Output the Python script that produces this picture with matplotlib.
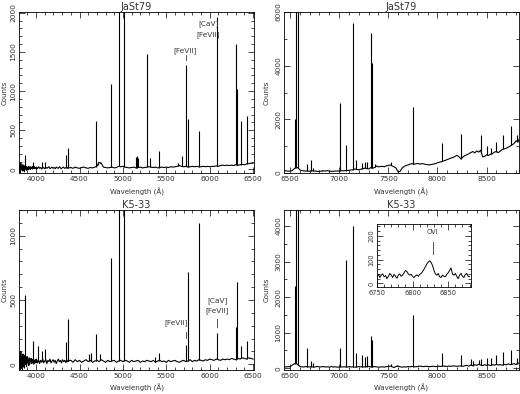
import numpy as np
import matplotlib.pyplot as plt
from matplotlib.ticker import MultipleLocator

plt.rcParams['font.family'] = ['DejaVu Sans']

# ---- continuum levels (counts), written as (start wavelength, step, values) ----
jast_blue_cont = [
    (3800, 6, [70, -30, 50, -40, 80, 0, 40, -20, 60, -10, 30, -30, 50, 10, 40, -10, 20,
               30, -5, 40, 10, 30, 0, 35, 15, 25, 5, 40, 20, 10, 35, 15, 25, 10]),
    (4004, 12, [30, 10, 35, 15, 25, 5, 30, 20, 10, 30, 15, 25, 35, 10, 20, 30, 15, 25,
                10, 30, 20, 15, 35, 20, 10, 25, 30, 15, 20, 30, 15, 25, 20]),
    (4400, 25, [25, 15, 30, 20, 15, 25, 30, 20, 15, 25, 20, 30,
                40, 90, 80, 30, 25, 20, 25, 30, 20, 25, 40, 35,
                40, 30, 25, 20, 25, 30, 20, 25, 30, 20, 25, 30,
                35, 30, 25, 30, 20, 25, 30, 25, 30, 25, 35, 30,
                35, 40, 50, 40, 35, 40, 30, 35, 40, 35, 40, 35,
                35, 40, 35, 40, 35, 40, 40, 45, 40, 50, 55, 50,
                55, 50, 55, 50, 60, 55, 60, 65, 60, 70, 75, 80, 80]),
]
jast_red_cont = [
    (6440, 20, [90, 80, 70, 70, 80, 150, 200, 200, 120, 90,
                80, 70, 75, 70, 80, 75, 70, 60, 65, 70,
                80, 75, 90, 70, 60, 65, 70, 75, 80, 85,
                80, 90, 95, 100, 110, 120, 150, 130, 120, 140,
                160, 180, 170, 150, 200, 180, 200, 260, 230, 240,
                250, 230, 270, 280, 300, 260, 230, 180, 40, 60,
                180, 240, 280, 300, 330, 350, 330, 340, 360, 330,
                350, 340, 320, 310, 300, 320, 330, 350, 380, 400,
                420, 450, 470, 500, 530, 560, 580, 620, 660, 600,
                520, 600, 650, 680, 720, 760, 800, 750, 820, 780,
                850, 600, 620, 680, 650, 700, 720, 780, 800, 760,
                820, 880, 900, 920, 960, 1000, 1050, 1100, 1200, 1150, 1350]),
]
k533_blue_cont = [
    (3800, 6, [90, -40, 70, -50, 100, -30, 60, -40, 80, -20, 50, -30, 70, 0, 40, -20, 60,
               10, 30, -10, 50, 0, 40, 20, 45, 5, 35, 15, 40, 0, 30, 20, 35, 10]),
    (4004, 12, [40, 10, 35, 5, 30, 15, 40, 10, 25, 35, 5, 30, 20, 40, 10, 25, 35, 15,
                30, 5, 25, 40, 20, 30, 10, 35, 20, 30, 15, 35, 20, 25, 30]),
    (4400, 25, [30, 15, 35, 20, 30, 15, 25, 35, 20, 30, 15, 25,
                30, 20, 35, 25, 15, 30, 20, 25, 30, 15, 25, 30,
                20, 30, 25, 15, 30, 20, 25, 30, 15, 25, 20, 30,
                25, 20, 30, 15, 25, 30, 20, 25, 15, 30, 20, 25,
                30, 20, 15, 25, 30, 20, 25, 35, 20, 30, 25, 35,
                30, 25, 35, 30, 40, 35, 30, 40, 35, 30, 40, 35,
                40, 35, 45, 40, 35, 45, 40, 50, 45, 40, 50, 45, 40]),
]
k533_red_cont = [
    (6440, 20, [40, 35, 45, 40, 80, 120, 140, 100, 50, 40,
                35, 45, 40, 35, 45, 30, 40, 50, 35, 40,
                45, 35, 40, 30, 45, 35, 40, 30, 35, 40,
                35, 40, 30, 45, 35, 40, 30, 35, 45, 40,
                35, 40, 45, 50, 40, 35, 45, 40, 30, 35,
                40, 30, 45, 50, 60, 40, 20, 50, 60, 40,
                30, 40, 35, 45, 40, 50, 45, 40, 50, 60,
                50, 45, 55, 50, 45, 50, 55, 45, 50, 55,
                50, 60, 55, 50, 60, 55, 65, 60, 55, 60,
                65, 55, 70, 80, 60, 90, 70, 100, 80, 110,
                90, 70, 100, 80, 95, 75, 100, 85, 110, 90,
                100, 85, 110, 95, 120, 100, 110, 130, 100, 150, 120]),
]

# ---- emission lines: wavelength (A) and peak counts ----
jast_blue_wl = [3869, 3968, 4068, 4102, 4340, 4363, 4686, 4711, 4740, 4861, 4959, 5007,
                5146, 5159, 5177, 5277, 5309, 5411, 5630, 5677, 5721, 5754, 5876, 6087,
                6300, 6312, 6364, 6435]
jast_blue_pk = [190, 90, 100, 95, 180, 270, 620, 100, 95, 1090, 9000, 9000,
                160, 170, 150, 1470, 150, 230, 80, 170, 1330, 640, 490, 1950,
                1600, 1030, 620, 680]
jast_red_wl = [6548, 6563, 6583, 6678, 6717, 6731, 6830, 7006, 7065, 7136, 7170, 7237,
               7263, 7281, 7320, 7330, 7364, 7530, 7751, 8046, 8236, 8446, 8502, 8545,
               8598, 8665, 8750, 8810]
jast_red_pk = [2000, 9000, 9000, 350, 500, 200, 110, 2600, 1050, 5600, 500, 380,
               400, 420, 5200, 4100, 320, 400, 2450, 1100, 1450, 1400, 1000, 950,
               1150, 1400, 1750, 1400]
k533_blue_wl = [3869, 3968, 4026, 4068, 4102, 4340, 4363, 4606, 4634, 4686, 4740, 4861,
                4959, 5007, 5366, 5411, 5721, 5754, 5876, 6087, 6300, 6312, 6364, 6435]
k533_blue_pk = [540, 180, 140, 100, 120, 170, 350, 80, 90, 235, 80, 830,
                9000, 9000, 60, 90, 150, 720, 1100, 240, 290, 640, 140, 180]
k533_red_wl = [6548, 6563, 6583, 6678, 6717, 6731, 7006, 7065, 7136, 7170, 7237, 7263,
               7281, 7320, 7330, 7530, 7590, 7751, 8046, 8236, 8340, 8360, 8422, 8446,
               8502, 8545, 8598, 8665, 8750, 8810]
k533_red_pk = [2300, 9000, 9000, 580, 200, 150, 560, 3050, 4000, 420, 380, 310,
               340, 900, 800, 120, 100, 1500, 420, 370, 250, 200, 230, 250,
               300, 300, 380, 450, 520, 300]

# ---- inset: OVI 6830 region of K5-33 ----
inset_wl = list(range(6750, 6882, 2))
inset_ct = [30, 38, 25, 35, 40, 28, 33, 20, 30, 42, 35, 25, 38, 30, 22, 35, 40, 30, 35, 45,
            55, 50, 40, 35, 38, 30, 25, 32, 36, 30, 38, 42, 50, 60, 70, 82, 90, 95, 88, 75,
            55, 40, 35, 42, 28, 25, 35, 30, 28, 38, 45, 55, 65, 40, 35, 42, 30, 20, 35, 42,
            30, 25, 38, 42, 30, 28]

GREY = '#333333'


def continuum(segs):
    wl, ct = [], []
    for start, step, vals in segs:
        wl.extend(start + step * np.arange(len(vals)))
        ct.extend(vals)
    return np.array(wl, float), np.array(ct, float)


def style(ax, xmaj, xmin, ymaj, ymin, size=5.3):
    ax.xaxis.set_major_locator(MultipleLocator(xmaj))
    ax.xaxis.set_minor_locator(MultipleLocator(xmin))
    ax.yaxis.set_major_locator(MultipleLocator(ymaj))
    ax.yaxis.set_minor_locator(MultipleLocator(ymin))
    ax.tick_params(which='both', direction='in', top=True, right=True,
                   labelsize=size, colors='black', labelcolor=GREY, width=0.5)
    ax.tick_params(which='major', length=4)
    ax.tick_params(which='minor', length=2)
    ax.tick_params(axis='x', pad=2.5)
    ax.tick_params(axis='y', pad=2)
    for lab in ax.get_yticklabels():
        lab.set_rotation(90)
        lab.set_va('center')
    for s in ax.spines.values():
        s.set_linewidth(0.6)


def spectrum(ax, segs, lwl, lpk, title, xlim, ylim, xmaj, xmin, ymaj, ymin, ylabx, xlaby):
    wl, ct = continuum(segs)
    ax.plot(wl, ct, color='black', lw=0.8)
    base = np.interp(lwl, wl, ct)
    ax.vlines(lwl, base, lpk, color='black', lw=0.8)
    ax.set_xlim(*xlim)
    ax.set_ylim(*ylim)
    style(ax, xmaj, xmin, ymaj, ymin)
    ax.set_title(title, fontsize=7, color=GREY, pad=1.5)
    ax.set_xlabel('Wavelength (Å)', fontsize=5, color=GREY, va='center')
    ax.xaxis.set_label_coords(0.5, xlaby)
    ax.set_ylabel('Counts', fontsize=5, color=GREY, va='center')
    ax.yaxis.set_label_coords(ylabx, 0.5)


fig = plt.figure(figsize=(5.2, 3.94), dpi=100)
W, H = 520.0, 394.0


def axes_px(l, r, t, b):
    return fig.add_axes([l / W, 1 - b / H, (r - l) / W, (b - t) / H])


ax1 = axes_px(19, 254, 12, 173)
ax2 = axes_px(284, 519, 12, 173)
ax3 = axes_px(19, 254, 210, 370)
ax4 = axes_px(284, 519, 210, 370)

spectrum(ax1, jast_blue_cont, jast_blue_wl, jast_blue_pk, 'JaSt79',
         (3803, 6510), (-45, 2010), 500, 100, 500, 100, -0.06, -0.118)
spectrum(ax2, jast_red_cont, jast_red_wl, jast_red_pk, 'JaSt79',
         (6439, 8830), (0, 6000), 500, 100, 2000, 1000, -0.075, -0.118)
spectrum(ax3, k533_blue_cont, k533_blue_wl, k533_blue_pk, 'K5-33',
         (3803, 6510), (-45, 1200), 500, 100, 500, 100, -0.06, -0.11)
spectrum(ax4, k533_red_cont, k533_red_wl, k533_red_pk, 'K5-33',
         (6439, 8830), (-50, 4450), 500, 100, 1000, 500, -0.075, -0.11)

# line identifications
fs = 5.3
ax1.text(5721, 1517, '[FeVII]', fontsize=fs, color=GREY, ha='center', va='center')
ax1.plot([5721, 5721], [1400, 1455], color=GREY, lw=0.6)
ax1.text(5985, 1865, '[CaV]', fontsize=fs, color=GREY, ha='center', va='center')
ax1.text(5985, 1716, '[FeVII]', fontsize=fs, color=GREY, ha='center', va='center')
ax3.text(5610, 320, '[FeVII]', fontsize=fs, color=GREY, ha='center', va='center')
ax3.plot([5721, 5721], [202, 254], color=GREY, lw=0.6)
ax3.text(6087, 492, '[CaV]', fontsize=fs, color=GREY, ha='center', va='center')
ax3.text(6087, 414, '[FeVII]', fontsize=fs, color=GREY, ha='center', va='center')
ax3.plot([6087, 6087], [293, 350], color=GREY, lw=0.6)

# inset
ax5 = axes_px(377, 471, 224, 287)
ax5.plot(inset_wl, inset_ct, color='black', lw=0.7)
ax5.set_xlim(6750, 6882)
ax5.set_ylim(-15, 250)
style(ax5, 50, 10, 100, 20, size=4.8)
ax5.text(6828, 215, 'OVI', fontsize=4.8, color=GREY, ha='center', va='center')
ax5.plot([6828, 6828], [125, 175], color=GREY, lw=0.6)

fig.savefig('out.png', dpi=100)
